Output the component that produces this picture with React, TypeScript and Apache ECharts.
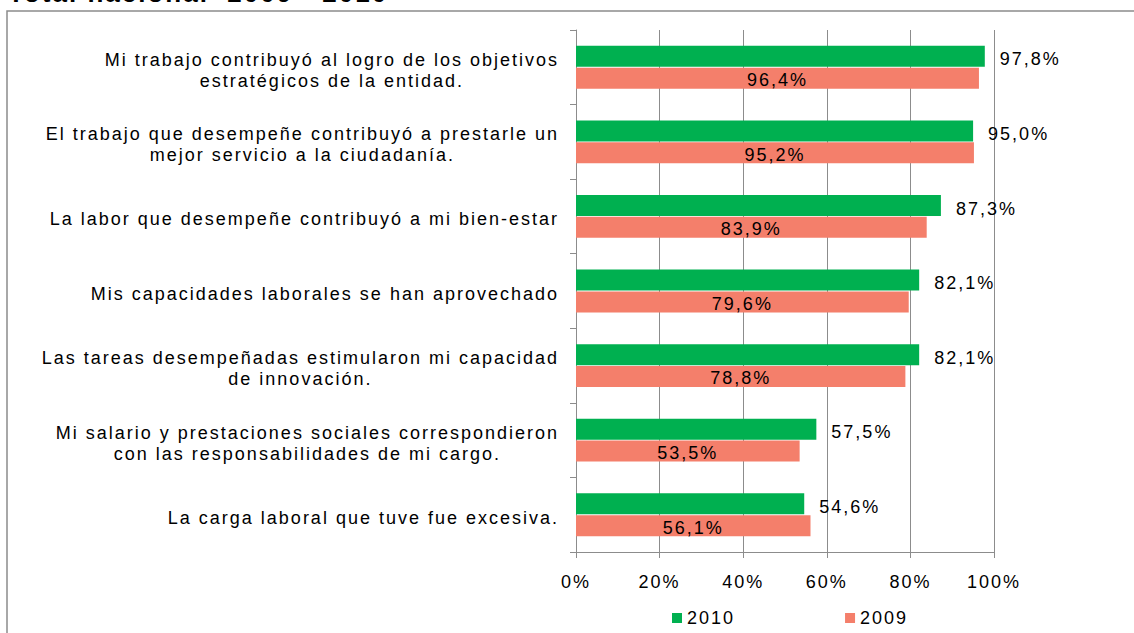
import React, { useEffect, useRef } from "react";
import * as echarts from "echarts";

const categories: string[] = [
  "Mi trabajo contribuyó al logro de los objetivos\nestratégicos de la entidad.",
  "El trabajo que desempeñe contribuyó a prestarle un\nmejor servicio a la ciudadanía.",
  "La labor que desempeñe contribuyó a mi bien-estar",
  "Mis capacidades laborales se han aprovechado",
  "Las tareas desempeñadas estimularon mi capacidad\nde innovación.",
  "Mi salario y prestaciones sociales correspondieron\ncon las responsabilidades de mi cargo.",
  "La carga laboral que tuve fue excesiva.",
];
const series2010: number[] = [97.8, 95.0, 87.3, 82.1, 82.1, 57.5, 54.6];
const series2009: number[] = [96.4, 95.2, 83.9, 79.6, 78.8, 53.5, 56.1];
const seriesNames: string[] = ["2010", "2009"];
const titleText = "Total nacional  2009 - 2010";

const FONT = '"Liberation Sans", Arial, sans-serif';
const FS = 18;
const LS = 2.0;

function spacedWidth(ctx: CanvasRenderingContext2D, text: string): number {
  return ctx.measureText(text).width + text.length * LS;
}

const fmtPct = (v: number) => v.toFixed(1).replace(".", ",") + "%";

export default function App() {
  const ref = useRef<HTMLDivElement>(null);

  useEffect(() => {
    document.body.style.margin = "0";
    if (!ref.current) return;
    const chart = echarts.init(ref.current, null, { renderer: "svg" });

    const canvas = document.createElement("canvas");
    const ctx = canvas.getContext("2d") as CanvasRenderingContext2D;
    ctx.font = `${FS}px "Liberation Sans"`;

    const rich: Record<string, any> = {};
    categories.forEach((cat, i) => {
      const lines = cat.split("\n");
      const w0 = spacedWidth(ctx, lines[0]);
      rich["a" + i] = {
        align: "right",
        fontSize: FS,
        fontFamily: FONT,
        color: "#000",
        lineHeight: 21,
      };
      if (lines.length > 1) {
        const w1 = spacedWidth(ctx, lines[1]);
        rich["b" + i] = {
          align: "right",
          fontSize: FS,
          fontFamily: FONT,
          color: "#000",
          lineHeight: 21,
          padding: [0, Math.max(0, (w0 - w1) / 2), 0, 0],
        };
      }
    });

    const option: any = {
      animation: false,
      graphic: [
        {
          type: "rect",
          shape: { x: 7, y: 11, width: 1300, height: 800 },
          style: { fill: "none", stroke: "#8c8c8c", lineWidth: 1.5 },
          silent: true,
        },
        {
          type: "text",
          x: 8,
          y: 6,
          style: {
            text: titleText,
            font: `bold 26px ${FONT}`,
            fill: "#000",
            verticalAlign: "bottom",
          },
          silent: true,
        },
      ],
      legend: {
        data: seriesNames,
        left: 667,
        top: 604,
        itemWidth: 10,
        itemHeight: 10,
        itemGap: 118,
        icon: "rect",
        textStyle: { fontSize: FS, fontFamily: FONT, color: "#000" },
      },
      grid: { left: 576, right: 140, top: 30, bottom: 81, containLabel: false },
      xAxis: {
        type: "value",
        min: 0,
        max: 100,
        interval: 20,
        axisLine: { show: true, lineStyle: { color: "#8c8c8c", width: 1 } },
        axisTick: { show: true, length: 6, lineStyle: { color: "#8c8c8c" } },
        splitLine: { show: true, lineStyle: { color: "#8c8c8c", width: 1 } },
        axisLabel: {
          formatter: "{value}%",
          fontSize: FS,
          fontFamily: FONT,
          color: "#000",
          margin: 21,
        },
      },
      yAxis: {
        type: "category",
        data: categories,
        inverse: true,
        axisLine: { show: true, lineStyle: { color: "#8c8c8c", width: 1 } },
        axisTick: { show: true, length: 6, lineStyle: { color: "#8c8c8c" } },
        axisLabel: {
          interval: 0,
          margin: 17,
          fontSize: FS,
          fontFamily: FONT,
          color: "#000",
          lineHeight: 21,
          padding: [6, 0, 0, 0],
          formatter: (value: string, index: number) => {
            const lines = value.split("\n");
            return lines
              .map((ln, j) => (j === 0 ? `{a${index}|${ln}}` : `{b${index}|${ln}}`))
              .join("\n");
          },
          rich,
        },
      },
      series: [
        {
          name: seriesNames[0],
          type: "bar",
          data: series2010,
          barWidth: 21,
          barGap: "4%",
          itemStyle: { color: "#00b050" },
          label: {
            show: true,
            position: "right",
            distance: 15,
            offset: [0, 3],
            fontSize: FS,
            fontFamily: FONT,
            color: "#000",
            formatter: (p: any) => fmtPct(p.value),
          },
        },
        {
          name: seriesNames[1],
          type: "bar",
          data: series2009,
          barWidth: 21,
          barGap: "4%",
          itemStyle: { color: "#f47f6b" },
          label: {
            show: true,
            position: "inside",
            offset: [0, 2],
            fontSize: FS,
            fontFamily: FONT,
            color: "#000",
            formatter: (p: any) => fmtPct(p.value),
          },
        },
      ],
    };
    chart.setOption(option);
    return () => chart.dispose();
  }, []);

  return (
    <>
      <style>{`.chart-root text { letter-spacing: ${LS}px; }`}</style>
      <div className="chart-root" ref={ref} style={{ width: 1134, height: 633 }} />
    </>
  );
}
